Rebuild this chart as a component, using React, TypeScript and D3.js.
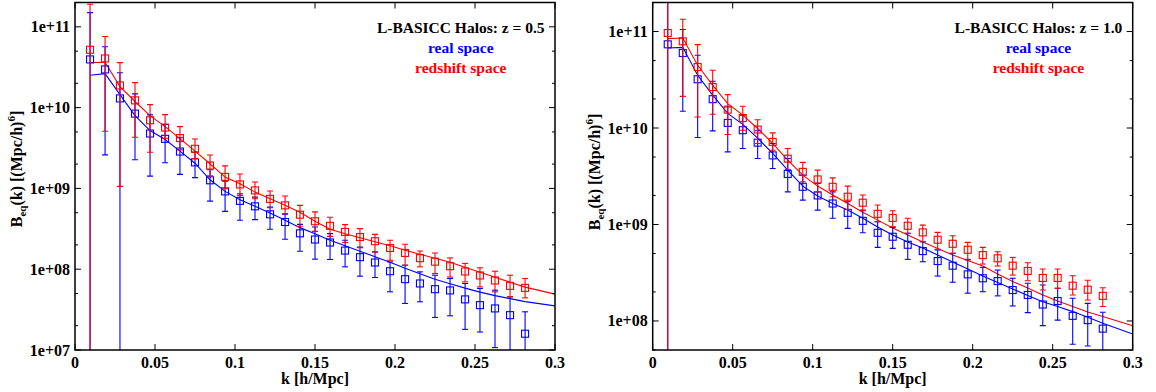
import React from "react";
import * as d3 from "d3";

// wavenumbers of the measured bins [h/Mpc]
const K = [0.0094, 0.0188, 0.0281, 0.0375, 0.0469, 0.0563, 0.0656, 0.075, 0.0844, 0.0938,
  0.1031, 0.1125, 0.1219, 0.1313, 0.1406, 0.15, 0.1594, 0.1688, 0.1781, 0.1875,
  0.1969, 0.2063, 0.2156, 0.225, 0.2344, 0.2438, 0.2531, 0.2625, 0.2719, 0.2813];
const K_MODEL = [...K, 0.3];

// ---- z = 0.5 ----
const z05Real = [3.95e10, 2.97e10, 1.30e10, 8.43e9, 4.78e9, 4.11e9, 2.86e9, 2.10e9, 1.26e9, 9.18e8,
  7.01e8, 6.00e8, 4.78e8, 3.84e8, 2.78e8, 2.33e8, 2.14e8, 1.70e8, 1.41e8, 1.21e8,
  9.44e7, 7.53e7, 6.66e7, 5.66e7, 5.46e7, 4.23e7, 3.59e7, 3.27e7, 2.70e7, 1.59e7];
const z05RealLo = [1e6, 2.6e9, 1e6, 2.26e9, 1.42e9, 2.08e9, 1.49e9, 1.36e9, 6.97e8, 5.2e8,
  4.03e8, 4.11e8, 3.12e8, 2.35e8, 1.67e8, 1.33e8, 1.32e8, 1.07e8, 8.2e7, 7.9e7,
  5.25e7, 3.77e7, 3.95e7, 2.53e7, 2.65e7, 1.8e7, 1.67e7, 1.07e7, 1e6, 1e6];
const z05RealHi = [1.5e11, 5.66e10, 2.7e10, 1.48e10, 8.13e9, 6.17e9, 4.23e9, 2.81e9, 1.7e9, 1.23e9,
  8.6e8, 7.81e8, 5.88e8, 4.78e8, 3.59e8, 3.33e8, 2.76e8, 2.28e8, 1.88e8, 1.64e8,
  1.23e8, 1.12e8, 9.27e7, 8.43e7, 7.67e7, 6.66e7, 5.78e7, 5.5e7, 4.55e7, 2.97e7];
const z05Red = [5.2e10, 4.06e10, 1.88e10, 1.23e10, 6.97e9, 5.66e9, 4.2e9, 3.09e9, 1.92e9, 1.39e9,
  1.12e9, 9.45e8, 7.42e8, 6.17e8, 4.73e8, 3.92e8, 3.44e8, 2.89e8, 2.5e8, 2.22e8,
  1.83e8, 1.59e8, 1.37e8, 1.24e8, 1.09e8, 9.37e7, 8.36e7, 7.25e7, 6.22e7, 5.87e7];
const z05RedLo = [1e6, 5.1e9, 1.06e9, 4.3e9, 2.8e9, 4.18e9, 3.0e9, 2.35e9, 1.43e9, 9.9e8,
  8.2e8, 7.46e8, 5.78e8, 4.87e8, 3.4e8, 2.94e8, 2.55e8, 2.14e8, 1.85e8, 1.64e8,
  1.29e8, 1.12e8, 1.07e8, 8.85e7, 8.0e7, 6.97e7, 6.04e7, 5.25e7, 4.55e7, 4.42e7];
const z05RedHi = [1.9e11, 7.6e10, 3.6e10, 2.04e10, 1.09e10, 8.2e9, 5.82e9, 4.08e9, 2.59e9, 1.9e9,
  1.51e9, 1.2e9, 9.3e8, 8.07e8, 6.17e8, 5.13e8, 4.39e8, 3.56e8, 3.18e8, 2.7e8,
  2.28e8, 2.04e8, 1.68e8, 1.59e8, 1.38e8, 1.18e8, 1.04e8, 9.44e7, 8.43e7, 7.67e7];
const z05ModelReal = [2.51e10, 2.63e10, 1.45e10, 7.96e9, 5.2e9, 4.03e9, 2.89e9, 2.05e9, 1.28e9, 9.18e8,
  7.25e8, 6.0e8, 4.95e8, 4.03e8, 3.27e8, 2.74e8, 2.28e8, 1.95e8, 1.67e8, 1.43e8,
  1.22e8, 1.03e8, 8.8e7, 7.53e7, 6.62e7, 5.83e7, 5.2e7, 4.71e7, 4.32e7, 3.97e7, 3.52e7];
const z05ModelRed = [3.6e10, 3.65e10, 1.82e10, 1.19e10, 7.96e9, 5.82e9, 4.14e9, 2.89e9, 2.02e9, 1.38e9,
  1.14e9, 9.0e8, 7.46e8, 6.17e8, 5.06e8, 3.92e8, 3.12e8, 2.74e8, 2.45e8, 2.19e8,
  1.95e8, 1.72e8, 1.53e8, 1.37e8, 1.22e8, 1.06e8, 9.18e7, 7.96e7, 6.91e7, 6.0e7, 4.91e7];

// ---- z = 1.0 ----
const z10Real = [7.37e10, 5.99e10, 3.2e10, 1.99e10, 1.13e10, 9.49e9, 7.05e9, 5.2e9, 3.34e9, 2.46e9,
  2.0e9, 1.65e9, 1.32e9, 1.09e9, 8.2e8, 7.46e8, 6.16e8, 5.3e8, 4.18e8, 3.74e8,
  3.04e8, 2.77e8, 2.59e8, 2.09e8, 1.86e8, 1.48e8, 1.61e8, 1.13e8, 1.02e8, 8.32e7];
const z10RealLo = [1e7, 1.49e10, 7.98e9, 9.33e9, 5.66e9, 6.14e9, 4.83e9, 3.81e9, 2.18e9, 1.79e9,
  1.41e9, 1.16e9, 9.12e8, 8.2e8, 5.79e8, 5.66e8, 4.35e8, 4.11e8, 2.92e8, 2.52e8,
  1.94e8, 2.01e8, 1.82e8, 1.43e8, 1.22e8, 8.94e7, 1.02e8, 5.74e7, 5.51e7, 4e7];
const z10RealHi = [3e11, 1.05e11, 5.67e10, 3.05e10, 1.65e10, 1.36e10, 9.38e9, 6.91e9, 4.83e9, 3.25e9,
  2.66e9, 2.18e9, 1.72e9, 1.41e9, 1.07e9, 9.33e8, 8.09e8, 6.62e8, 5.43e8, 5.02e8,
  4.35e8, 3.6e8, 3.37e8, 2.77e8, 2.46e8, 2.36e8, 2.18e8, 1.72e8, 1.52e8, 1.23e8];
const z10Red = [9.66e10, 7.92e10, 4.29e10, 2.66e10, 1.55e10, 1.27e10, 9.64e9, 7.18e9, 4.81e9, 3.51e9,
  2.93e9, 2.46e9, 1.94e9, 1.68e9, 1.29e9, 1.17e9, 9.7e8, 8.28e8, 6.95e8, 6.31e8,
  5.47e8, 4.82e8, 4.46e8, 3.74e8, 3.3e8, 2.79e8, 2.79e8, 2.32e8, 2.11e8, 1.82e8];
const z10RedLo = [1e7, 2.13e10, 1.3e10, 1.39e10, 8.57e9, 9.49e9, 6.91e9, 5.89e9, 3.72e9, 2.77e9,
  2.18e9, 1.94e9, 1.43e9, 1.39e9, 1.07e9, 9.47e8, 8.09e8, 6.62e8, 5.52e8, 5.02e8,
  4.28e8, 3.89e8, 3.71e8, 2.99e8, 2.61e8, 2.09e8, 2.18e8, 1.86e8, 1.65e8, 1.41e8];
const z10RedHi = [3e11, 1.34e11, 7.32e10, 3.97e10, 2.22e10, 1.68e10, 1.22e10, 8.9e9, 6.14e9, 4.4e9,
  3.66e9, 3.04e9, 2.5e9, 2.02e9, 1.59e9, 1.39e9, 1.16e9, 9.86e8, 8.28e8, 7.64e8,
  6.53e8, 5.79e8, 5.22e8, 4.56e8, 4.01e8, 3.45e8, 3.45e8, 2.94e8, 2.64e8, 2.21e8];
const z10ModelReal = [6.75e10, 6.86e10, 3.52e10, 2.19e10, 1.42e10, 1.09e10, 7.84e9, 5.45e9, 3.66e9, 2.5e9,
  1.97e9, 1.65e9, 1.41e9, 1.16e9, 9.4e8, 7.77e8, 6.57e8, 5.7e8, 4.82e8, 4.08e8,
  3.45e8, 2.92e8, 2.5e8, 2.14e8, 1.84e8, 1.58e8, 1.41e8, 1.25e8, 1.09e8, 9.47e7, 7.33e7];
const z10ModelRed = [8.45e10, 8.57e10, 4.47e10, 2.77e10, 1.79e10, 1.36e10, 9.88e9, 6.91e9, 4.64e9, 3.25e9,
  2.5e9, 2.02e9, 1.65e9, 1.34e9, 1.11e9, 9.18e8, 7.77e8, 6.57e8, 5.63e8, 4.82e8,
  4.23e8, 3.71e8, 3.07e8, 2.56e8, 2.2e8, 1.86e8, 1.61e8, 1.41e8, 1.24e8, 1.11e8, 8.94e7];

const X_TICKS = [0, 0.05, 0.1, 0.15, 0.2, 0.25, 0.3];
const X_TICK_LABELS = ["0", "0.05", "0.1", "0.15", "0.2", "0.25", "0.3"];
const Y_TICKS_L = [1e7, 1e8, 1e9, 1e10, 1e11];
const Y_TICK_LABELS_L = ["1e+07", "1e+08", "1e+09", "1e+10", "1e+11"];
const Y_TICKS_R = [1e8, 1e9, 1e10, 1e11];
const Y_TICK_LABELS_R = ["1e+08", "1e+09", "1e+10", "1e+11"];

const BLUE = "#0000ff";
const RED = "#ff0000";
const FONT = '"Liberation Serif", "Times New Roman", Times, "DejaVu Serif", serif';

type PanelProps = {
  id: string;
  left: number;
  right: number;
  top: number;
  bottom: number;
  yDomain: [number, number];
  yTicks: number[];
  yTickLabels: string[];
  title: string;
  real: number[]; realLo: number[]; realHi: number[];
  red: number[]; redLo: number[]; redHi: number[];
  modelReal: number[]; modelRed: number[];
  yLabelX: number; yLabelY: number;
};

function Series({ xs, ys, vals, lo, hi, color }: any) {
  const cap = 3;
  const h = 3.5;
  return (
    <g stroke={color} fill="none" strokeWidth={1.1}>
      {vals.map((v: number, i: number) => {
        const x = xs(K[i]);
        const y = ys(v);
        const yl = ys(lo[i]);
        const yh = ys(hi[i]);
        return (
          <g key={i}>
            <line x1={x} x2={x} y1={yl} y2={yh} />
            <line x1={x - cap} x2={x + cap} y1={yl} y2={yl} />
            <line x1={x - cap} x2={x + cap} y1={yh} y2={yh} />
            <rect x={x - h} y={y - h} width={2 * h} height={2 * h} />
          </g>
        );
      })}
    </g>
  );
}

function Panel(p: PanelProps) {
  const xs = d3.scaleLinear().domain([0, 0.3]).range([p.left, p.right]);
  const ys = d3.scaleLog().domain(p.yDomain).range([p.bottom, p.top]);
  const line = d3.line<number>().x((_, i) => xs(K_MODEL[i])).y((d) => ys(d));
  const minor = ys.ticks().filter((t) => {
    const m = Math.round(t / Math.pow(10, Math.floor(Math.log10(t) + 1e-9)));
    return m === 2 || m === 5;
  });
  const legX = xs(0.2411);
  const txt = { fontFamily: FONT, fontWeight: "bold" as const };
  return (
    <g>
      <defs>
        <clipPath id={p.id}>
          <rect x={p.left} y={p.top} width={p.right - p.left} height={p.bottom - p.top} />
        </clipPath>
      </defs>
      <g clipPath={`url(#${p.id})`}>
        <path d={line(p.modelReal) || ""} fill="none" stroke={BLUE} strokeWidth={1.1} />
        <path d={line(p.modelRed) || ""} fill="none" stroke={RED} strokeWidth={1.1} />
        <Series xs={xs} ys={ys} vals={p.real} lo={p.realLo} hi={p.realHi} color={BLUE} />
        <Series xs={xs} ys={ys} vals={p.red} lo={p.redLo} hi={p.redHi} color={RED} />
      </g>
      <g stroke="#000" strokeWidth={1}>
        {X_TICKS.map((t, i) => (
          <g key={i}>
            <line x1={xs(t)} x2={xs(t)} y1={p.bottom} y2={p.bottom - 6} />
            <line x1={xs(t)} x2={xs(t)} y1={p.top} y2={p.top + 6} />
          </g>
        ))}
        {p.yTicks.map((t, i) => (
          <g key={i}>
            <line x1={p.left} x2={p.left + 6} y1={ys(t)} y2={ys(t)} />
            <line x1={p.right} x2={p.right - 6} y1={ys(t)} y2={ys(t)} />
          </g>
        ))}
        {minor.map((t, i) => (
          <g key={i}>
            <line x1={p.left} x2={p.left + 3} y1={ys(t)} y2={ys(t)} />
            <line x1={p.right} x2={p.right - 3} y1={ys(t)} y2={ys(t)} />
          </g>
        ))}
      </g>
      <rect x={p.left} y={p.top} width={p.right - p.left} height={p.bottom - p.top}
        fill="none" stroke="#000" strokeWidth={1.5} />
      <g style={{ ...txt, fontSize: "16px" }} fill="#000">
        {X_TICKS.map((t, i) => (
          <text key={i} x={xs(t)} y={368} textAnchor="middle">{X_TICK_LABELS[i]}</text>
        ))}
        {p.yTicks.map((t, i) => (
          <text key={i} x={p.left - 5} y={ys(t) + 5.5} textAnchor="end">{p.yTickLabels[i]}</text>
        ))}
        <text x={(p.left + p.right) / 2} y={384} textAnchor="middle">k [h/Mpc]</text>
        <text transform={`translate(${p.yLabelX},${p.yLabelY}) rotate(-90)`} textAnchor="middle">
          B<tspan style={{ fontSize: "11px" }} dy={4}>eq</tspan><tspan dy={-4}>(k) [(Mpc/h)</tspan>
          <tspan style={{ fontSize: "11px" }} dy={-7}>6</tspan><tspan dy={7}>]</tspan>
        </text>
      </g>
      <g style={{ ...txt, fontSize: "15.5px" }} textAnchor="middle">
        <text x={legX} y={33} fill="#000">{p.title}</text>
        <text x={legX} y={53} fill={BLUE}>real space</text>
        <text x={legX} y={73} fill={RED}>redshift space</text>
      </g>
    </g>
  );
}

export default function App() {
  return (
    <svg width={1156} height={392} style={{ position: "absolute", left: 0, top: 0, background: "#fff" }}>
      <rect width={1156} height={392} fill="#fff" />
      <Panel id="cpL" left={75} right={555} top={2.5} bottom={350} yDomain={[1e7, 2e11]}
        yTicks={Y_TICKS_L} yTickLabels={Y_TICK_LABELS_L} title="L-BASICC Halos: z = 0.5"
        real={z05Real} realLo={z05RealLo} realHi={z05RealHi}
        red={z05Red} redLo={z05RedLo} redHi={z05RedHi}
        modelReal={z05ModelReal} modelRed={z05ModelRed} yLabelX={22} yLabelY={169} />
      <Panel id="cpR" left={652.7} right={1132.7} top={2.5} bottom={350} yDomain={[5e7, 2e11]}
        yTicks={Y_TICKS_R} yTickLabels={Y_TICK_LABELS_R} title="L-BASICC Halos: z = 1.0"
        real={z10Real} realLo={z10RealLo} realHi={z10RealHi}
        red={z10Red} redLo={z10RedLo} redHi={z10RedHi}
        modelReal={z10ModelReal} modelRed={z10ModelRed} yLabelX={600} yLabelY={172} />
    </svg>
  );
}
